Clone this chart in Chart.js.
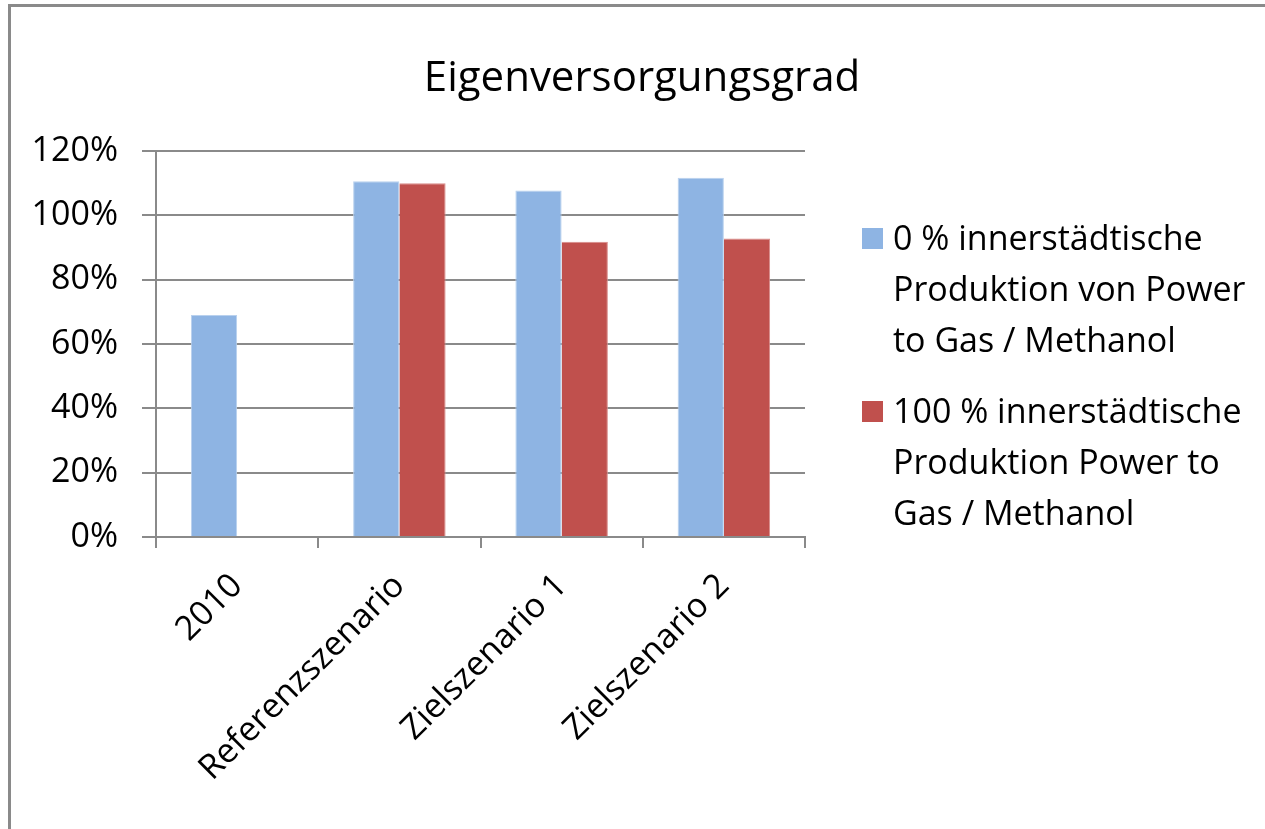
<!DOCTYPE html>
<html>
<head>
<meta charset="utf-8">
<title>Eigenversorgungsgrad</title>
<script src="https://cdn.jsdelivr.net/npm/chart.js@4.4.1/dist/chart.umd.min.js"></script>
<style>
  html, body { margin: 0; padding: 0; background: #fff; }
  #wrap { width: 1265px; height: 829px; }
</style>
</head>
<body>
<div id="wrap"><canvas id="chart" width="1265" height="829"></canvas></div>
<script>
// Daten
var categories = ['2010', 'Referenzszenario', 'Zielszenario 1', 'Zielszenario 2'];
var ohnePtG = [69, 110.6, 107.7, 111.7];      // 0 % innerstädtische Produktion
var mitPtG = [null, 110.0, 91.8, 92.8];       // 100 % innerstädtische Produktion
var yTicks = [0, 20, 40, 60, 80, 100, 120];
var legendLines = [
    ['0 % innerstädtische', 'Produktion von Power', 'to Gas / Methanol'],
    ['100 % innerstädtische', 'Produktion Power to', 'Gas / Methanol']
];
var chartTitle = 'Eigenversorgungsgrad';

var FONT = "'Open Sans', 'Noto Sans', sans-serif";
Chart.defaults.font.family = FONT;
Chart.defaults.color = '#000000';

// Rahmen, Titel und Legende
var decor = {
    id: 'decor',
    beforeDraw: function (chart) {
        var ctx = chart.ctx;
        ctx.save();
        ctx.fillStyle = '#ffffff';
        ctx.fillRect(0, 0, chart.width, chart.height);
        ctx.strokeStyle = '#8a8a8a';
        ctx.lineWidth = 3;
        ctx.beginPath();
        ctx.moveTo(9.5, chart.height);
        ctx.lineTo(9.5, 5.5);
        ctx.lineTo(chart.width, 5.5);
        ctx.stroke();
        ctx.restore();
    },
    afterDraw: function (chart) {
        var ctx = chart.ctx;
        ctx.save();
        ctx.fillStyle = '#000000';
        ctx.textAlign = 'center';
        ctx.textBaseline = 'alphabetic';
        ctx.font = '42px ' + FONT;
        ctx.fillText(chartTitle, 642, 91);

        ctx.textAlign = 'left';
        ctx.font = '34px ' + FONT;
        var tops = [250, 423];
        chart.data.datasets.forEach(function (ds, i) {
            ctx.fillStyle = ds.backgroundColor;
            ctx.fillRect(862, tops[i] - 22, 21, 21);
            ctx.fillStyle = '#000000';
            legendLines[i].forEach(function (line, j) {
                ctx.fillText(line, 893, tops[i] + j * 51);
            });
        });
        ctx.restore();
    }
};

var ctx = document.getElementById('chart').getContext('2d');
var myChart = new Chart(ctx, {
    type: 'bar',
    data: {
        labels: categories,
        datasets: [{
                label: legendLines[0].join(' '),
                data: ohnePtG,
                backgroundColor: '#8EB4E3',
                borderColor: '#B9D1EE',
                borderWidth: {top: 1, left: 1, right: 1, bottom: 0}
            },
            {
                label: legendLines[1].join(' '),
                data: mitPtG,
                backgroundColor: '#C0504D',
                borderColor: '#D98B89',
                borderWidth: {top: 1, left: 0, right: 1, bottom: 0}
            }
        ]
    },
    options: {
        responsive: false,
        animation: false,
        layout: {
            padding: {left: 0, right: 460, top: 151, bottom: 0}
        },
        plugins: {
            legend: {display: false},
            title: {display: false},
            tooltip: {enabled: false}
        },
        datasets: {
            bar: {categoryPercentage: 0.57, barPercentage: 1.0}
        },
        scales: {
            x: {
                offset: true,
                grid: {
                    offset: true,
                    drawOnChartArea: false,
                    drawTicks: true,
                    tickLength: 11,
                    color: '#8a8a8a',
                    lineWidth: 2
                },
                border: {color: '#8a8a8a', width: 2},
                ticks: {
                    maxRotation: 45,
                    minRotation: 45,
                    padding: 18,
                    font: {size: 34}
                },
                afterFit: function (scale) {
                    scale.height = 829 - 537;
                }
            },
            y: {
                min: 0,
                max: 120,
                afterBuildTicks: function (scale) {
                    scale.ticks = yTicks.map(function (v) { return {value: v}; });
                },
                grid: {
                    color: '#8a8a8a',
                    lineWidth: 2,
                    tickLength: 14
                },
                border: {color: '#8a8a8a', width: 2},
                ticks: {
                    padding: 24,
                    font: {size: 34},
                    callback: function (v) { return v + '%'; }
                },
                afterFit: function (scale) {
                    scale.width = 156;
                }
            }
        }
    },
    plugins: [decor]
});
</script>
</body>
</html>
